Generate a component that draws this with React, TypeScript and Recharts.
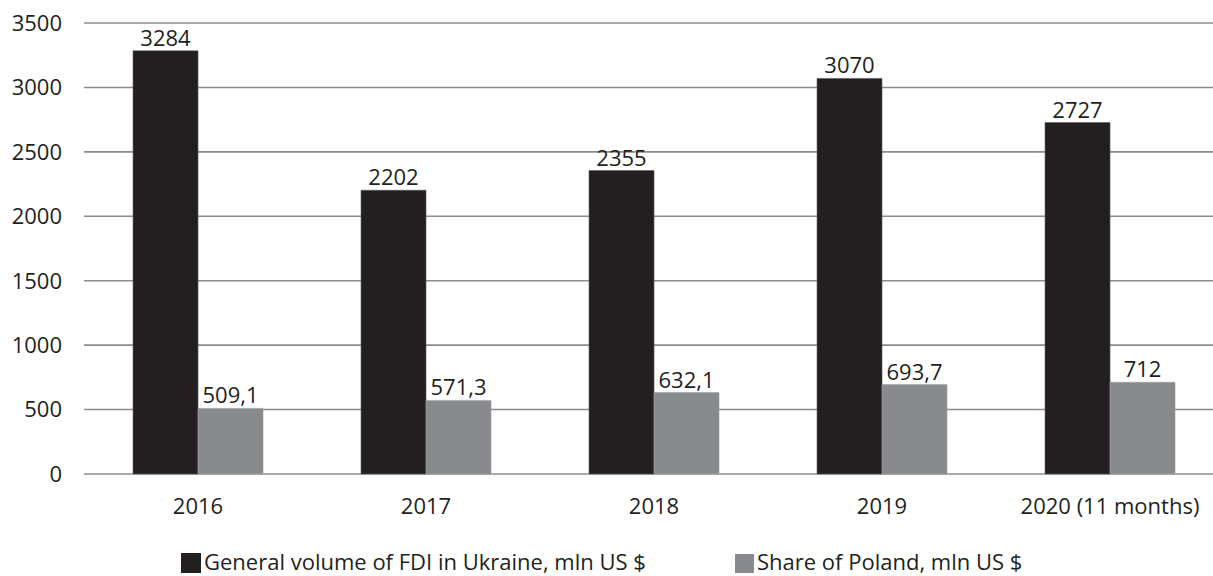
import React from 'react';
import { BarChart, Bar, XAxis, YAxis, CartesianGrid, LabelList, Legend } from 'recharts';

const categories = ['2016', '2017', '2018', '2019', '2020 (11 months)'];
const fdiTotal = [3284, 2202, 2355, 3070, 2727];
const polandShare = [509.1, 571.3, 632.1, 693.7, 712];
const yTicks = [0, 500, 1000, 1500, 2000, 2500, 3000, 3500];
const seriesNames = ['General volume of FDI in Ukraine, mln US $', 'Share of Poland, mln US $'];

const data = categories.map((c, i) => ({ name: c, total: fdiTotal[i], poland: polandShare[i] }));

const FONT = '"Open Sans", sans-serif';
const FS = 22;
const TEXT = '#231f20';
const BLACK = '#231f20';
const GRAY = '#898a8d';

const fmt = (v: number) => String(v).replace('.', ',');

const LegendContent = () => (
  <div style={{ position: 'relative', height: 24, fontFamily: FONT, fontSize: FS, color: TEXT, lineHeight: '24px', whiteSpace: 'nowrap' }}>
    <div style={{ position: 'absolute', left: 181, top: 0, display: 'flex', alignItems: 'center' }}>
      <span style={{ display: 'inline-block', width: 20, height: 20, background: BLACK, marginRight: 3, marginTop: 4 }} />
      <span>{seriesNames[0]}</span>
    </div>
    <div style={{ position: 'absolute', left: 735, top: 0, display: 'flex', alignItems: 'center' }}>
      <span style={{ display: 'inline-block', width: 19, height: 19, background: GRAY, marginRight: 3, marginTop: 4 }} />
      <span>{seriesNames[1]}</span>
    </div>
  </div>
);

export default function App() {
  return (
    <div style={{ position: 'absolute', left: 0, top: 0, width: 1213, height: 576, overflow: 'hidden', background: '#fff' }}>
      <BarChart
        width={1225}
        height={576}
        data={data}
        margin={{ top: 23, right: 1, left: 0, bottom: 0 }}
        barCategoryGap="21.5%"
        barGap={0}
      >
        <CartesianGrid horizontal vertical={false} stroke="#8c8c8c" strokeWidth={1.6} />
        <XAxis
          dataKey="name"
          axisLine={false}
          tickLine={false}
          tickSize={0}
          tickMargin={24}
          height={102}
          tick={{ fill: TEXT, fontSize: FS, fontFamily: FONT }}
          interval={0}
        />
        <YAxis
          domain={[0, 3500]}
          ticks={yTicks}
          axisLine={false}
          tickLine={false}
          tickSize={0}
          tickMargin={22}
          width={84}
          tick={{ fill: TEXT, fontSize: FS, fontFamily: FONT }}
          interval={0}
        />
        <Legend
          layout="horizontal"
          verticalAlign="middle"
          align="center"
          wrapperStyle={{ top: 549, left: 0, width: 1213 }}
          content={<LegendContent />}
        />
        <Bar dataKey="total" name={seriesNames[0]} fill={BLACK} stroke="#5a5a5a" strokeWidth={0.6} isAnimationActive={false}>
          <LabelList dataKey="total" position="top" offset={5} formatter={fmt} style={{ fill: TEXT, fontSize: FS, fontFamily: FONT }} />
        </Bar>
        <Bar dataKey="poland" name={seriesNames[1]} fill={GRAY} stroke="#a0a1a3" strokeWidth={0.6} isAnimationActive={false}>
          <LabelList dataKey="poland" position="top" offset={5} formatter={fmt} style={{ fill: TEXT, fontSize: FS, fontFamily: FONT }} />
        </Bar>
      </BarChart>
    </div>
  );
}
